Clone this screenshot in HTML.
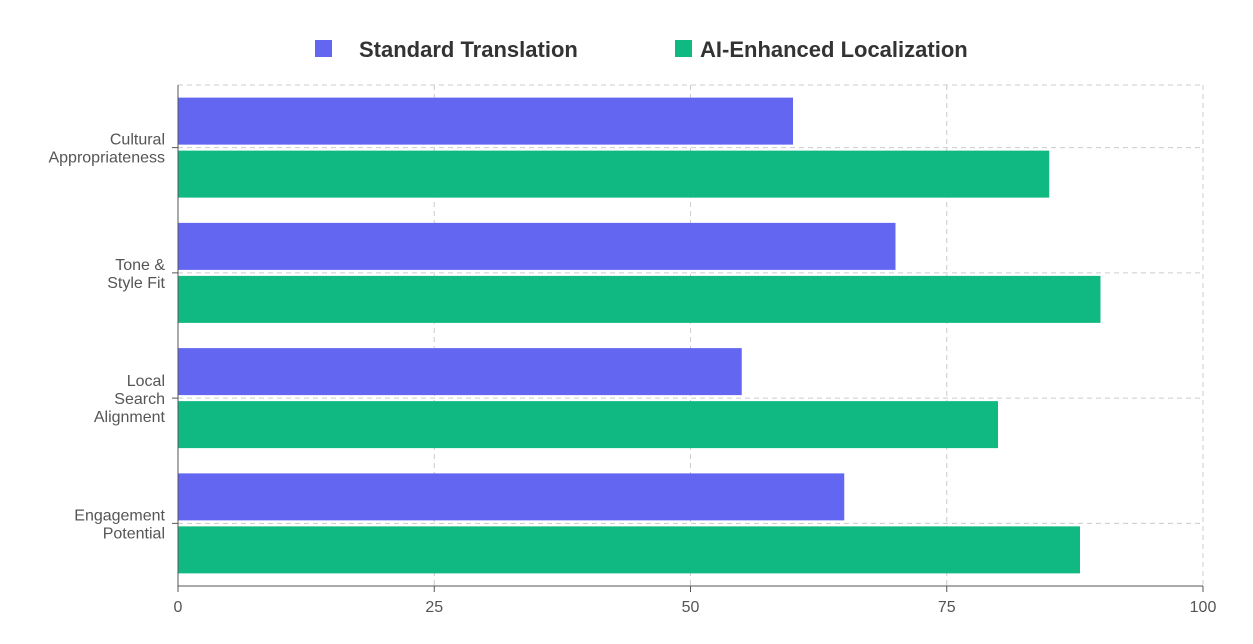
<!DOCTYPE html>
<html><head><meta charset="utf-8"><style>
html,body{margin:0;padding:0;background:#fff;}
svg{display:block;font-family:"Liberation Sans",sans-serif;}
</style></head><body>
<svg id="chart" width="1253" height="644" viewBox="0 0 1253 644">
<g id="legend">
  <rect x="315" y="40" width="17" height="17" fill="#6366f1"/>
  <text x="359" y="57" font-size="22" font-weight="bold" fill="#333">Standard Translation</text>
  <rect x="675" y="40" width="17" height="17" fill="#10b981"/>
  <text x="700" y="57" font-size="22" font-weight="bold" fill="#333">AI-Enhanced Localization</text>
</g>
<g id="grid"></g>
<g id="bars"></g>
<g id="axes"></g>
</svg>
<script>
const categories = [["Cultural","Appropriateness"],["Tone &","Style Fit"],["Local","Search","Alignment"],["Engagement","Potential"]];
const standardValues = [60, 70, 55, 65];
const aiValues = [85, 90, 80, 88];
const xTicks = [0, 25, 50, 75, 100];

const NS = "http://www.w3.org/2000/svg";
const L = 178, R = 1203, T = 85, B = 586;
const band = (B - T) / categories.length;
function x(v){ return L + (v / 100) * (R - L); }
function yc(i){ return T + band * (i + 0.5); }
function mk(tag, attrs, parent){ const e = document.createElementNS(NS, tag); for (const k in attrs) e.setAttribute(k, attrs[k]); parent.appendChild(e); return e; }

const grid = document.getElementById("grid");
const bars = document.getElementById("bars");
const axes = document.getElementById("axes");
const dash = {stroke:"#ccc","stroke-width":1,"stroke-dasharray":"5,4"};

let g = mk("line", Object.assign({x1:L,x2:R,y1:T,y2:T}, dash), grid);


xTicks.forEach(t => {
  if (t === 0) return;
  const l = mk("line", Object.assign({x1:x(t),x2:x(t),y1:T,y2:B}, dash), grid);
  
  
});

categories.forEach((c, i) => {
  const cy = yc(i);
  const b1 = mk("rect", {x:L, y:cy-50, width:x(standardValues[i])-L, height:47, fill:"#6366f1"}, bars);
  
  
  const b2 = mk("rect", {x:L, y:cy+3, width:x(aiValues[i])-L, height:47, fill:"#10b981"}, bars);
  
  
  const gl = mk("line", Object.assign({x1:L,x2:R,y1:cy,y2:cy}, dash), grid);
  
  
  const tk = mk("line", {x1:L-6,x2:L,y1:cy,y2:cy,stroke:"#555","stroke-width":1}, axes);
  
  
  const txt = mk("text", {x:165, "text-anchor":"end", "font-size":16, fill:"#555"}, axes);
  
  
  const n = c.length;
  const startY = cy - 3 - (n - 2) * 18 + (n === 3 ? 0 : 0);
  c.forEach((line, j) => {
    const ts = mk("tspan", {x:165, y:(n===3 ? cy-12 : cy-3) + j*18}, txt);
    ts.textContent = line;
  });
});

let ax = mk("line", {x1:L,x2:L,y1:T,y2:B,stroke:"#555","stroke-width":1}, axes);


ax = mk("line", {x1:L,x2:R,y1:B,y2:B,stroke:"#555","stroke-width":1}, axes);


xTicks.forEach(t => {
  const tk = mk("line", {x1:x(t),x2:x(t),y1:B,y2:B+6,stroke:"#555","stroke-width":1}, axes);
  
  
  const lb = mk("text", {x:x(t), y:612, "text-anchor":"middle", "font-size":16, fill:"#555"}, axes);
  
  
  lb.textContent = t;
});
</script>
</body></html>
